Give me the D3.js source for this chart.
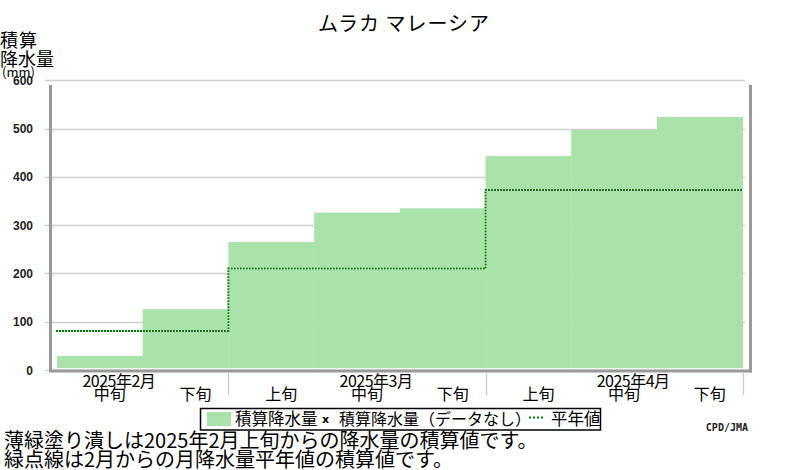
<!DOCTYPE html>
<html><head><meta charset="utf-8">
<script src="https://cdn.jsdelivr.net/npm/d3@7"></script>
<style>
body{margin:0;background:#fff;}
text{font-family:"Noto Sans CJK JP","Noto Sans",sans-serif;fill:#000;}
</style></head>
<body><svg id="c" width="800" height="470"></svg>
<script>
// ---- data ----
const decadeKeys = ["2025-02-2","2025-02-3","2025-03-1","2025-03-2","2025-03-3","2025-04-1","2025-04-2","2025-04-3"];
const decadeLabels = ["中旬","下旬","上旬","中旬","下旬","上旬","中旬","下旬"];
const cumulative = [29,126,265,326,335,443,497,524];
const months = ["2025年2月","2025年3月","2025年4月"];
const monthFirstDecade = [0,2,5];   // first visible decade of each month
const monthLastDecade = [1,4,7];
const monthLabelDecade = [0,3,6];
const monthNormals = [81,210,373];
const yTicks = [0,100,200,300,400,500,600];

const svg = d3.select("#c");
const x = d3.scaleBand().domain(decadeKeys).range([57,742.7]).padding(0);
const y = d3.scaleLinear().domain([0,600]).range([370,80.3]);

// gridlines
svg.append("g").selectAll("line").data(yTicks).join("line")
  .attr("x1",45).attr("x2",745)
  .attr("y1",d=>Math.round(y(d))+0.5).attr("y2",d=>Math.round(y(d))+0.5)
  .attr("stroke","#cfcfcf").attr("stroke-width",1.3);

// bars
svg.append("g").selectAll("rect").data(cumulative).join("rect")
  .attr("x",(d,i)=>x(decadeKeys[i]))
  .attr("width",x.bandwidth()+0.3)
  .attr("y",d=>y(d))
  .attr("height",d=>y(0)-1.8-y(d))
  .attr("fill","#aae3aa");

// normal step line
const pts = [];
monthNormals.forEach((v,i)=>{
  pts.push([x(decadeKeys[monthFirstDecade[i]]) - (i===0?1:0), v]);
});
pts.push([x(decadeKeys[monthLastDecade[2]])+x.bandwidth(), monthNormals[2]]);
const line = d3.line().x(d=>d[0]).y(d=>y(d[1])).curve(d3.curveStepAfter);
svg.append("path").attr("d",line(pts)).attr("fill","none")
  .attr("stroke","#fff").attr("stroke-width",2);
svg.append("path").attr("d",line(pts)).attr("fill","none")
  .attr("stroke","#008000").attr("stroke-width",2).attr("stroke-dasharray","2,1");

// axes frame
const ax = svg.append("g").attr("stroke","#999").attr("stroke-width",3);
ax.append("line").attr("x1",50.5).attr("x2",50.5).attr("y1",85).attr("y2",372);
ax.append("line").attr("x1",49).attr("x2",752).attr("y1",371).attr("y2",371);
ax.append("line").attr("x1",750.5).attr("x2",750.5).attr("y1",85).attr("y2",372.5);

// y tick labels
svg.append("g").selectAll("text").data(yTicks).join("text")
  .attr("x",33).attr("y",d=>y(d)+4.5).attr("text-anchor","end")
  .style("font-family","'Liberation Sans',Arial,sans-serif").style("font-weight","bold")
  .style("font-size","12px").style("fill","#222").text(d=>d);

// month separators
const seps = monthLastDecade.map(i=>x(decadeKeys[i])+x.bandwidth());
svg.append("g").selectAll("line").data(seps).join("line")
  .attr("x1",d=>Math.round(d)+0.5).attr("x2",d=>Math.round(d)+0.5)
  .attr("y1",373).attr("y2",395).attr("stroke","#ccc").attr("stroke-width",1.3);

// decade labels
svg.append("g").selectAll("text").data(decadeLabels).join("text")
  .attr("x",(d,i)=>x(decadeKeys[i])+x.bandwidth()/2+10).attr("y",400)
  .attr("text-anchor","middle").style("font-size","16px").text(d=>d);
// month labels
svg.append("g").selectAll("text").data(months).join("text")
  .attr("x",(d,i)=>x(decadeKeys[monthLabelDecade[i]])+x.bandwidth()/2+19).attr("y",387)
  .attr("text-anchor","middle").style("font-size","16px").style("letter-spacing","-0.5px").text(d=>d);

// title
svg.append("text").attr("x",404).attr("y",31).attr("text-anchor","middle")
  .style("font-size","20px").style("letter-spacing","1px").text("ムラカ マレーシア");

// y axis title
svg.append("text").attr("x",0).attr("y",47).style("font-size","18px").style("letter-spacing","1px").text("積算");
svg.append("text").attr("x",0).attr("y",66).style("font-size","18px").text("降水量");
svg.append("text").attr("x",2).attr("y",77).style("font-size","13px").text("(mm)");

// legend
const lg = svg.append("g");
lg.append("rect").attr("x",200.5).attr("y",408.5).attr("width",400).attr("height",21.5)
  .attr("fill","#fff").attr("stroke","#000").attr("stroke-width",1.5);
lg.append("rect").attr("x",207).attr("y",412).attr("width",24).attr("height",14).attr("fill","#aae3aa");
lg.append("text").attr("x",235).attr("y",425).style("font-size","16.5px").text("積算降水量");
lg.append("text").attr("x",322).attr("y",423).style("font-family","'DejaVu Sans',sans-serif")
  .style("font-weight","bold").style("font-size","11px").text("x");
lg.append("text").attr("x",339).attr("y",425).style("font-size","16px").text("積算降水量（データなし）");
lg.append("line").attr("x1",529).attr("x2",543).attr("y1",417.5).attr("y2",417.5)
  .attr("stroke","#008000").attr("stroke-width",2).attr("stroke-dasharray","2,2");
lg.append("text").attr("x",551).attr("y",425).style("font-size","16.5px").text("平年値");

// credit
svg.append("text").attr("x",748).attr("y",431).attr("text-anchor","end")
  .style("font-family","'DejaVu Sans Mono',monospace").style("font-weight","bold")
  .style("font-size","10px").style("fill","#222").text("CPD/JMA");

// footer
svg.append("text").attr("x",4).attr("y",448).style("font-size","20px")
  .text("薄緑塗り潰しは2025年2月上旬からの降水量の積算値です。");
svg.append("text").attr("x",4).attr("y",467).style("font-size","20px")
  .text("緑点線は2月からの月降水量平年値の積算値です。");
</script></body></html>
